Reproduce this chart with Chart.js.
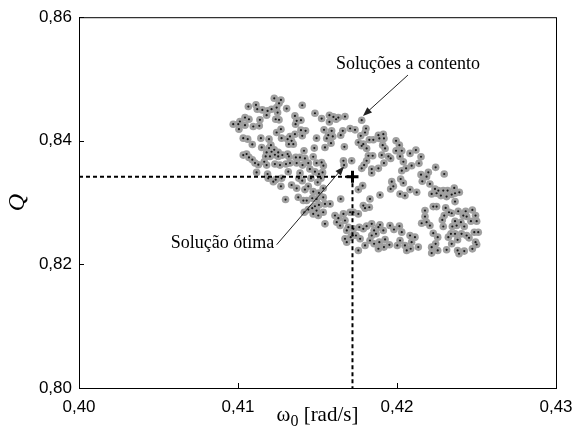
<!DOCTYPE html>
<html lang="pt">
<head>
<meta charset="UTF-8" />
<title>Soluções a contento</title>
<script src="https://cdn.jsdelivr.net/npm/chart.js"></script>
<style>
  body { margin: 0; background: #fff; }
  #wrap { width: 585px; height: 439px; }
</style>
</head>
<body>
<div id="wrap"><canvas id="chart" width="585" height="439"></canvas></div>
<script>
// soluções a contento: omega0 [rad/s] e Q
const omega = [
  .41228, .41270, .41258, .41404, .41065, .41113, .41121, .41153, .41186, .41211,
  .41243, .41249, .41306, .41180, .41237, .41258, .41484, .41358, .41369, .41396,
  .41362, .41044, .41069, .41012, .40970, .41002, .41044, .41006, .41096, .41134,
  .41138, .41270, .41243, .41396, .41425, .41404, .41358, .41327, .41312, .41337,
  .41348, .41320, .41274, .41494, .41033, .41061, .41144, .41195, .41207, .41195,
  .41228, .41211, .41253, .41279, .41312, .41180, .41149, .41090, .41415, .41480,
  .41033, .41054, .41069, .41090, .41107, .41128, .41165, .41174, .41201, .41232,
  .41253, .41320, .41364, .41390, .41421, .41442, .41473, .41494, .41180, .41232,
  .41264, .41302, .41327, .41369, .41406,
  .41526, .41575, .41600, .41617, .41631, .41673, .41575, .41778, .41541, .41589,
  .41568, .41596, .41558, .41585, .41547, .41646, .41659, .41705, .41736, .41805,
  .41799, .41772, .41826, .41851, .41883, .41914, .41889, .41918, .41757, .41788,
  .41778, .41809, .41669, .41910, .41925, .41994, .42015, .42030, .41994, .42082,
  .41820, .41847, .41809, .41793, .41778, .41841, .41883, .41904, .41946, .41960,
  .41918, .42019, .42040, .42057, .42092, .41663, .41667, .41715, .41526, .41537,
  .42119, .42151, .42138, .42243, .42297, .42197, .42151, .42186, .42159, .42207,
  .42239, .42260, .42291, .42318, .42218, .42249, .42276, .42312, .42360, .42365,
  .42392, .42344,
  .42176, .42228, .42249, .42306, .42327, .42297, .42344, .42365, .42385, .42432,
  .42417, .42438, .42474, .42494, .42465, .42501, .42402, .42365, .42375, .42348,
  .42423, .42285, .42291, .42176, .42186, .42155, .42207, .42228, .42256, .42243,
  .42218, .42256, .42218, .42312, .42339, .42365, .42323, .42381, .42344, .42406,
  .42438, .42453, .42486, .42511, .42494, .42501, .42474, .42381, .42390, .42423,
  .41117, .41186, .41316, .41390, .41452, .41484, .41509, .41532, .41190, .41237,
  .41222, .41274, .41383, .41404, .41459, .41501, .41522, .41270, .41337, .41369,
  .41421, .41442, .41473, .41509, .41536, .41299, .41379, .41411, .41432, .41467,
  .41494, .41536, .41417, .41442, .41467, .41484, .41509, .41494, .41473, .41505,
  .41536,
  .41841, .42030, .42023, .42040, .41967, .41960, .41977, .42019, .42050, .42082,
  .42124, .41784, .41757, .41893, .41830, .41788, .41826, .41799, .41646, .41579,
  .41547, .41547, .41610, .41631, .41663, .41673, .41705, .41726, .41757, .41694,
  .41684, .41721, .41709, .41742, .41726, .41763, .41788, .41809, .41841, .41856,
  .41883, .41893, .41914, .41868, .41841, .41830, .41856, .41889, .41925, .41956,
  .41981, .42015, .42030, .42019, .42050, .42082, .42092, .42113, .42134, .42086,
  .42061, .42002, .41952, .41918, .41883, .41768, .41799, .41757, .41684, .41673,
  .41642, .41621
];
const q = [
  .84688, .84661, .84607, .84575, .84554, .84581, .84511, .84500, .84484, .84511,
  .84538, .84457, .84521, .84414, .84349, .84339, .84446, .84403, .84323, .84333,
  .84269, .84376, .84349, .84312, .84269, .84269, .84253, .84188, .84231, .84242,
  .84339, .84188, .84134, .84172, .84161, .84081, .84107, .84070, .84027, .84000,
  .83946, .83946, .84043, .84043, .84043, .84027, .84043, .84027, .83930, .83882,
  .83855, .83823, .83812, .83769, .83785, .83812, .83892, .83941, .83839, .83882,
  .83769, .83785, .83731, .83694, .83640, .83613, .83661, .83747, .83747, .83774,
  .83747, .83747, .83731, .83731, .83715, .83640, .83742, .83640, .83607, .83624,
  .83607, .83624, .83640, .83640, .83607,
  .84360, .84414, .84387, .84349, .84376, .84392, .84306, .84333, .84177, .84161,
  .84091, .84070, .84038, .83962, .83892, .84091, .84161, .84199, .84177, .84199,
  .84134, .84081, .84016, .84016, .84091, .84107, .84038, .84038, .83973, .83946,
  .83919, .83876, .83903, .83930, .83876, .84000, .83930, .83839, .83839, .83796,
  .83758, .83758, .83677, .83607, .83554, .83543, .83554, .83769, .83747, .83715,
  .83640, .83747, .83661, .83554, .83597, .83677, .83607, .83677, .83650, .83597,
  .83850, .83742, .83635, .83570, .83463, .83490, .83452, .83420, .83345, .83302,
  .83221, .83194, .83194, .83194, .83140, .83151, .83113, .83097, .83237, .83151,
  .83167, .83130,
  .82871, .82935, .82935, .82914, .82844, .82790, .82828, .83016, .82860, .82860,
  .82790, .82774, .82881, .82790, .82699, .82699, .82683, .82699, .82629, .82613,
  .82613, .82720, .82613, .82774, .82683, .82666, .82629, .82505, .82441, .82333,
  .82279, .82226, .82183, .82236, .82494, .82494, .82441, .82398, .82333, .82494,
  .82468, .82430, .82521, .82521, .82360, .82322, .82252, .82226, .82172, .82215,
  .83489, .83463, .83500, .83479, .83543, .83500, .83463, .83489, .83393, .83371,
  .83339, .83393, .83393, .83355, .83393, .83328, .83393, .83264, .83285, .83231,
  .83210, .83264, .83178, .83156, .83231, .83049, .83086, .83033, .83033, .83070,
  .83059, .83086, .82844, .82887, .82909, .82941, .82963, .82871, .82817, .82791,
  .82844,
  .83479, .83516, .83382, .83317, .83339, .83221, .83264, .83140, .83113, .83210,
  .83167, .83274, .83210, .83124, .83059, .82952, .82925, .82909, .83059, .82979,
  .82979, .82656, .82791, .82748, .82817, .82710, .82844, .82844, .82817, .82602,
  .82549, .82468, .82441, .82468, .82576, .82602, .82576, .82619, .82656, .82549,
  .82602, .82640, .82549, .82495, .82468, .82387, .82334, .82360, .82404, .82629,
  .82565, .82619, .82522, .82387, .82307, .82468, .82360, .82441, .82280, .82253,
  .82226, .82307, .82317, .82280, .82253, .82414, .82307, .82226, .82360, .82414,
  .82629, .82683
];
// solução ótima
const optOmega = [0.4172];
const optQ = [0.8342];
const xTicks = [0.40, 0.41, 0.42, 0.43];
const yTicks = [0.80, 0.82, 0.84, 0.86];

// textos e setas (coordenadas nos eixos)
const notes = [
  { text: 'Soluções a contento', x: 0.42069, y: 0.85161, from: [0.42069, 0.85064], to: [0.41786, 0.84403] },
  { text: 'Solução ótima', x: 0.40903, y: 0.82258, from: [0.41243, 0.82318], to: [0.41667, 0.83585] }
];

const points = omega.map((w, i) => ({ x: w, y: q[i] }));
const opt = { x: optOmega[0], y: optQ[0] };
const guide = [
  { x: xTicks[0], y: opt.y },
  { x: opt.x, y: opt.y },
  { x: opt.x, y: yTicks[0] }
];

const fmt = v => v.toFixed(2).replace('.', ',');
const serif = '"Liberation Serif", "Times New Roman", serif';

function arrow(ctx, x0, y0, x1, y1) {
  const a = Math.atan2(y1 - y0, x1 - x0);
  const len = 9, half = 3.5;
  ctx.beginPath();
  ctx.moveTo(x0, y0);
  ctx.lineTo(x1 - Math.cos(a) * len * 0.8, y1 - Math.sin(a) * len * 0.8);
  ctx.stroke();
  ctx.beginPath();
  ctx.moveTo(x1, y1);
  ctx.lineTo(x1 - Math.cos(a) * len - Math.sin(a) * half, y1 - Math.sin(a) * len + Math.cos(a) * half);
  ctx.lineTo(x1 - Math.cos(a) * len + Math.sin(a) * half, y1 - Math.sin(a) * len - Math.cos(a) * half);
  ctx.closePath();
  ctx.fill();
}

// moldura, ticks para dentro, título do eixo x e anotações
const framePlugin = {
  id: 'frame',
  afterDraw(chart) {
    const { ctx, chartArea: a, scales: { x, y } } = chart;
    ctx.save();
    ctx.strokeStyle = '#000';
    ctx.lineWidth = 1;
    ctx.strokeRect(a.left + 0.5, a.top + 0.5, a.right - a.left, a.bottom - a.top);
    ctx.beginPath();
    x.ticks.forEach(t => {
      const px = Math.round(x.getPixelForValue(t.value)) + 0.5;
      ctx.moveTo(px, a.bottom);
      ctx.lineTo(px, a.bottom - 5);
    });
    y.ticks.forEach(t => {
      const py = Math.round(y.getPixelForValue(t.value)) + 0.5;
      ctx.moveTo(a.left, py);
      ctx.lineTo(a.left + 5, py);
    });
    ctx.stroke();

    // ω0 [rad/s] com índice
    ctx.fillStyle = '#000';
    ctx.textBaseline = 'alphabetic';
    ctx.textAlign = 'left';
    const big = '21px ' + serif, small = '16px ' + serif;
    ctx.font = big;
    const wW = ctx.measureText('ω').width;
    const wR = ctx.measureText(' [rad/s]').width;
    ctx.font = small;
    const wS = ctx.measureText('0').width;
    let tx = (a.left + a.right) / 2 - (wW + wS + wR) / 2;
    const ty = 421;
    ctx.font = big;
    ctx.fillText('ω', tx, ty);
    ctx.font = small;
    ctx.fillText('0', tx + wW, ty + 5);
    ctx.font = big;
    ctx.fillText(' [rad/s]', tx + wW + wS, ty);

    ctx.font = '18px ' + serif;
    ctx.textAlign = 'center';
    notes.forEach(n => {
      ctx.fillText(n.text, x.getPixelForValue(n.x), y.getPixelForValue(n.y));
    });
    ctx.strokeStyle = '#222';
    ctx.fillStyle = '#222';
    notes.forEach(n => {
      arrow(ctx,
        x.getPixelForValue(n.from[0]), y.getPixelForValue(n.from[1]),
        x.getPixelForValue(n.to[0]), y.getPixelForValue(n.to[1]));
    });
    ctx.restore();
  }
};

new Chart(document.getElementById('chart'), {
  type: 'scatter',
  data: {
    datasets: [
      {
        label: 'Solução ótima',
        data: [opt],
        pointStyle: 'cross',
        pointRadius: 6,
        borderWidth: 3,
        borderColor: '#000',
        backgroundColor: '#000'
      },
      {
        label: 'guia',
        data: guide,
        showLine: true,
        pointRadius: 0,
        borderColor: '#000',
        borderWidth: 2,
        borderDash: [4, 3]
      },
      {
        label: 'centros',
        data: points,
        pointRadius: 1.1,
        borderWidth: 0,
        backgroundColor: '#1a1a1a'
      },
      {
        label: 'Soluções a contento',
        data: points,
        pointRadius: 3.8,
        borderWidth: 0,
        backgroundColor: '#a0a0a0'
      }
    ]
  },
  options: {
    responsive: false,
    animation: false,
    devicePixelRatio: 1,
    layout: { padding: { top: 16, right: 29, left: 0, bottom: 0 } },
    plugins: { legend: { display: false }, tooltip: { enabled: false } },
    scales: {
      x: {
        type: 'linear',
        min: 0.40,
        max: 0.43,
        afterBuildTicks: s => { s.ticks = xTicks.map(v => ({ value: v })); },
        afterFit: s => { s.height = 51; },
        grid: { display: false, drawTicks: false },
        border: { display: false },
        ticks: {
          padding: 9,
          color: '#000',
          font: { family: '"Liberation Sans", Arial, sans-serif', size: 17 },
          callback: v => fmt(v)
        },
        title: { display: false }
      },
      y: {
        type: 'linear',
        min: 0.80,
        max: 0.86,
        afterBuildTicks: s => { s.ticks = yTicks.map(v => ({ value: v })); },
        afterFit: s => { s.width = 79; },
        grid: { display: false, drawTicks: false },
        border: { display: false },
        ticks: {
          padding: 7,
          color: '#000',
          font: { family: '"Liberation Sans", Arial, sans-serif', size: 17 },
          callback: v => fmt(v)
        },
        title: {
          display: true,
          text: 'Q',
          color: '#000',
          font: { family: serif, size: 24, style: 'italic' },
          padding: { top: 3, bottom: 0 }
        }
      }
    }
  },
  plugins: [framePlugin]
});
</script>
</body>
</html>
